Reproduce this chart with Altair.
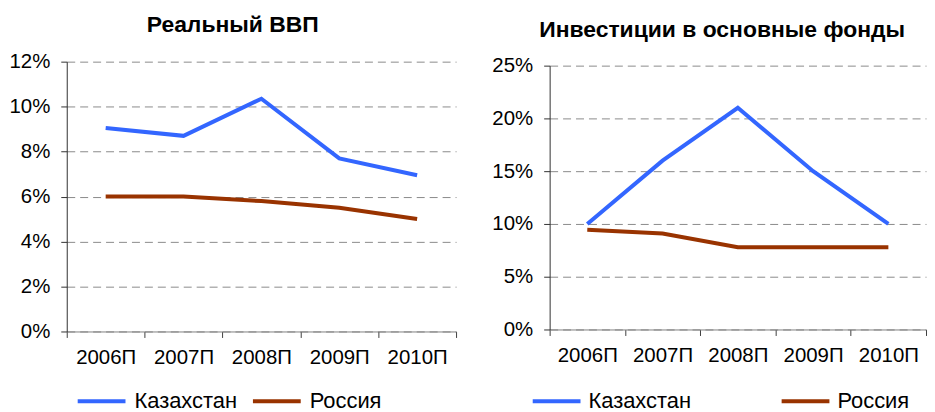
import altair as alt
import pandas as pd

years = ["2006П", "2007П", "2008П", "2009П", "2010П"]
series = ["Казахстан", "Россия"]
gdp_kz = [9.05, 8.7, 10.35, 7.7, 6.95]
gdp_ru = [6.0, 6.0, 5.8, 5.5, 5.0]
inv_kz = [10.0, 16.0, 21.0, 15.0, 10.0]
inv_ru = [9.45, 9.1, 7.8, 7.8, 7.8]
colors = ["#3366FF", "#993300"]
FONT = "Liberation Sans"


def frame(kz, ru):
    rows = []
    for y, a, b in zip(years, kz, ru):
        rows.append({"year": y, "series": series[0], "value": a})
        rows.append({"year": y, "series": series[1], "value": b})
    return pd.DataFrame(rows)


def panel(df, title, ymax, ystep, width, height, top_gap, lx, ly, colpad,
          loff, toff, tdx):
    ticks = list(range(0, ymax + 1, ystep))
    return alt.Chart(df).mark_line(strokeWidth=4).encode(
        x=alt.X("year:N", sort=years, title=None,
                scale=alt.Scale(type="band", paddingInner=0, paddingOuter=0),
                axis=alt.Axis(labelAngle=0, tickBand="extent", grid=False,
                              domainColor="#808080", tickColor="#404040",
                              tickSize=6, labelFont=FONT, labelFontSize=20.5,
                              labelColor="#000000", labelPadding=10)),
        y=alt.Y("value:Q", title=None,
                scale=alt.Scale(domain=[0, ymax], nice=False,
                                range=[height, top_gap]),
                axis=alt.Axis(values=ticks, labelExpr="datum.value + '%'",
                              grid=True, gridDash=[8, 5], gridColor="#8a8a8a",
                              domainColor="#303030", tickColor="#303030",
                              tickSize=6, labelFont=FONT, labelFontSize=20.5,
                              labelColor="#000000", labelPadding=11)),
        color=alt.Color("series:N", sort=series,
                        scale=alt.Scale(domain=series, range=colors),
                        legend=alt.Legend(title=None, orient="none",
                                          legendX=lx, legendY=ly,
                                          direction="horizontal",
                                          symbolType="stroke",
                                          symbolStrokeWidth=4,
                                          symbolSize=2304,
                                          labelFont=FONT, labelFontSize=22,
                                          labelColor="#000000",
                                          columnPadding=colpad,
                                          labelOffset=loff, padding=0)),
    ).properties(
        width=width, height=height,
        title=alt.TitleParams(title, font=FONT, fontSize=23, fontWeight="bold",
                              color="#000000", anchor="middle",
                              frame="bounds", offset=toff, dx=tdx),
    )


left = panel(frame(gdp_kz, gdp_ru), "Реальный ВВП", 12, 2, 391, 271, 0,
             9, 315, 7, 7, 14.5, 0)
right = panel(frame(inv_kz, inv_ru), "Инвестиции в основные фонды", 25, 5,
              378, 269, 4, -19, 315, 82, 6, 13.5, 13)

chart = alt.hconcat(left, right, spacing=34).resolve_scale(
    color="independent").resolve_legend(color="independent").properties(
    padding={"left": 0, "top": 5, "right": 0, "bottom": 0}
).configure_view(stroke=None)

chart.save("out.html", embed_options={"renderer": "svg", "actions": False})
